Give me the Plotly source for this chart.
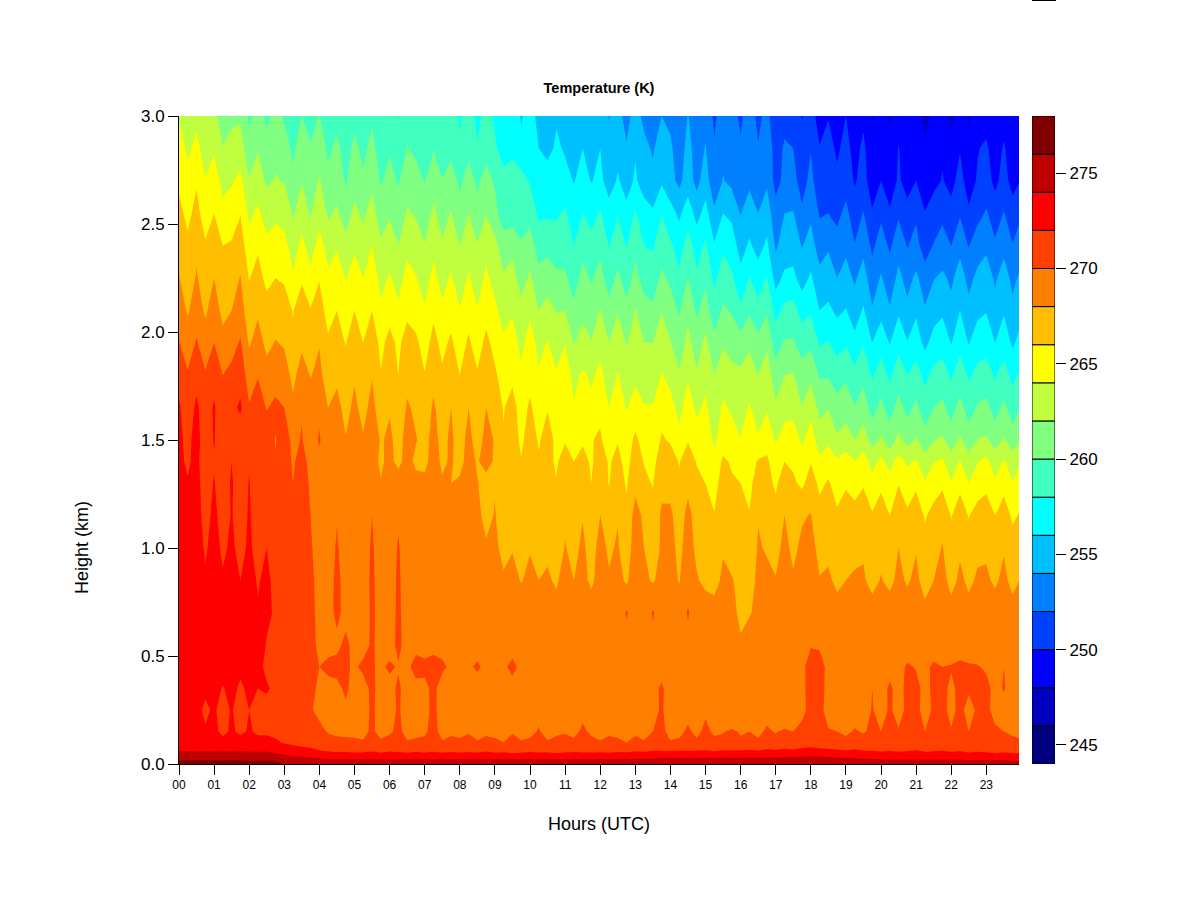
import plotly.graph_objects as go

hours = [i * 0.25 for i in range(96)] + [23.93]
heights = [0.0, 0.02, 0.05, 0.10, 0.15, 0.25, 0.35, 0.45, 0.55, 0.70, 0.85, 1.00, 1.15, 1.30, 1.40,
           1.50, 1.65, 1.80, 1.95, 2.10, 2.25, 2.40, 2.55, 2.70, 2.85, 3.00]

temperature = [
 [277.0,277.1,276.9,277.0,277.1,276.9,277.0,276.8,277.0,276.9,276.8,276.7,276.0,275.6,275.2,275.0,
  274.9,274.8,274.9,275.0,274.8,274.9,274.8,275.0,274.9,274.8,274.9,274.8,274.9,274.8,275.0,274.9,
  274.8,274.9,274.8,274.8,274.9,274.8,275.0,274.8,274.9,274.8,274.9,274.8,274.8,274.9,274.8,274.9,
  274.9,274.8,274.9,274.9,274.8,274.9,275.0,274.9,275.0,274.9,275.1,275.0,275.1,275.2,275.1,275.3,
  275.2,275.3,275.4,275.3,275.5,275.4,275.6,275.5,275.7,275.6,275.5,275.3,275.2,275.1,275.0,275.0,
  274.9,274.8,274.9,274.8,274.8,274.7,274.8,274.7,274.7,274.6,274.7,274.6,274.6,274.5,274.6,274.5,
  274.5],
 [275.8,275.9,275.8,275.9,275.8,275.7,275.9,275.8,275.8,275.7,275.8,275.6,275.2,274.9,274.7,274.6,
  274.3,274.2,274.1,274.2,274.1,274.2,274.1,274.2,274.1,274.2,274.1,274.1,274.2,274.1,274.2,274.1,
  274.1,274.2,274.1,274.1,274.2,274.1,274.2,274.1,274.2,274.1,274.1,274.2,274.1,274.2,274.2,274.1,
  274.2,274.1,274.3,274.2,274.3,274.4,274.3,274.5,274.4,274.6,274.5,274.4,274.6,274.5,274.7,274.6,
  274.6,274.7,274.8,274.7,274.8,274.9,274.8,275.0,275.1,274.9,274.7,274.6,274.5,274.4,274.3,274.2,
  274.2,274.1,274.2,274.1,274.1,274.0,274.1,274.0,274.1,274.0,273.9,274.0,273.9,273.9,273.9,273.8,
  273.9],
 [274.3,274.3,274.2,274.4,274.2,274.3,274.2,274.3,274.3,274.2,274.3,274.0,273.6,273.4,273.2,272.9,
  272.5,272.3,272.2,272.3,272.1,272.2,272.3,272.1,272.3,272.2,272.1,272.3,272.1,272.2,272.1,272.2,
  272.1,272.2,272.1,272.3,272.1,272.2,272.0,272.1,272.2,272.1,272.2,272.0,272.1,272.2,272.1,272.1,
  272.2,272.1,272.3,272.2,272.4,272.3,272.5,272.4,272.5,272.6,272.4,272.6,272.5,272.4,272.6,272.5,
  272.6,272.7,272.6,272.8,272.7,272.9,272.8,273.0,273.2,273.0,272.9,272.8,272.6,272.7,272.5,272.4,
  272.3,272.4,272.2,272.3,272.4,272.2,272.3,272.4,272.2,272.3,272.1,272.2,272.1,272.0,272.1,272.0,
  272.0],
 [272.9,272.8,272.9,272.7,272.8,272.6,272.7,272.8,272.5,272.6,272.4,272.3,271.8,271.5,271.2,271.1,
  270.7,270.5,270.4,270.2,270.3,270.1,270.4,270.2,270.5,270.3,270.1,270.2,270.3,270.6,270.1,270.3,
  270.2,270.4,270.1,270.3,270.2,270.0,270.4,270.1,270.2,270.5,270.1,270.3,270.4,270.2,270.6,270.3,
  270.1,270.3,270.2,270.0,270.3,270.1,270.4,270.6,270.1,270.2,270.5,270.2,270.7,270.3,270.4,270.6,
  270.3,270.5,270.2,270.6,270.4,270.7,270.5,270.8,271.0,270.8,270.6,270.5,270.3,270.6,270.4,270.7,
  270.4,270.7,270.6,270.8,270.9,270.5,270.7,270.8,270.6,270.9,270.5,270.7,270.8,270.6,270.5,270.3,
  270.2],
 [272.6,272.4,272.7,272.2,272.5,271.5,272.3,271.6,272.2,271.7,271.8,271.5,271.2,271.0,270.9,270.7,
  270.3,269.9,269.7,269.8,269.6,269.7,270.2,269.6,269.8,270.3,269.6,269.7,269.8,270.4,269.6,269.8,
  269.7,269.9,269.6,269.8,269.7,269.5,269.9,269.6,269.7,270.1,269.6,269.8,269.9,269.7,270.2,269.8,
  269.6,269.8,269.7,269.5,269.8,269.6,270.0,270.3,269.6,269.7,270.2,269.7,270.3,269.8,269.9,270.3,
  269.8,270.0,269.7,270.2,269.9,270.3,270.0,270.4,270.6,270.4,270.1,270.0,269.8,270.1,269.9,270.2,
  270.0,270.3,270.1,270.4,270.5,270.0,270.3,270.4,270.1,270.5,270.0,270.3,270.4,270.2,270.0,269.8,
  269.7],
 [272.8,272.5,272.6,271.6,272.3,271.2,272.2,270.9,272.0,271.3,271.4,271.2,270.8,270.5,270.9,270.1,
  269.7,269.4,269.6,269.8,269.5,269.3,270.3,269.3,269.4,270.2,269.3,269.4,269.5,270.4,269.3,269.5,
  269.3,269.5,269.2,269.4,269.3,269.1,269.5,269.2,269.3,269.7,269.2,269.4,269.5,269.3,269.7,269.4,
  269.2,269.4,269.3,269.1,269.4,269.2,269.5,270.2,269.2,269.3,269.6,269.3,269.8,269.4,269.5,268.0,
  269.4,269.5,268.1,269.5,269.4,268.0,269.5,269.6,270.5,270.4,269.5,269.4,269.2,269.5,269.3,270.1,
  269.4,270.2,269.5,270.3,270.4,269.5,270.2,270.4,269.6,270.4,269.5,270.2,270.3,269.6,269.5,269.4,
  269.3],
 [273.0,272.8,272.6,272.4,272.5,271.9,272.5,271.7,272.4,272.0,272.2,271.6,271.2,271.0,270.8,270.3,
  269.8,269.6,269.7,270.2,269.6,269.5,270.3,269.5,269.6,270.2,269.5,269.6,269.7,270.3,269.5,269.6,
  269.5,269.6,269.4,269.5,269.5,269.3,269.6,269.4,269.5,269.7,269.4,269.5,269.6,269.5,269.7,269.5,
  269.4,269.5,269.4,269.3,269.5,269.4,269.6,270.2,269.4,269.4,269.6,269.4,269.7,269.5,269.5,269.6,
  269.5,269.6,269.4,269.6,269.5,269.7,269.5,269.6,270.6,270.5,269.6,269.5,269.3,269.6,269.4,270.0,
  269.5,270.2,269.6,270.3,270.4,269.6,270.3,270.4,269.7,270.4,270.2,270.3,270.4,269.6,270.1,269.5,
  269.3],
 [273.3,273.1,273.0,272.9,272.9,272.5,272.7,272.4,272.2,272.5,271.6,271.4,270.9,270.7,270.5,270.2,
  270.0,270.3,270.4,270.2,269.8,270.3,270.1,269.8,270.2,269.9,269.7,270.5,270.3,270.5,270.2,269.8,
  269.6,269.8,270.2,269.7,269.6,269.8,270.3,269.7,269.6,269.5,269.7,269.6,269.5,269.7,269.6,269.5,
  269.4,269.5,269.4,269.3,269.5,269.4,269.6,269.5,269.4,269.4,269.5,269.4,269.6,269.4,269.5,269.5,
  269.4,269.5,269.4,269.6,269.4,269.6,269.5,269.6,270.7,270.6,269.6,269.4,269.3,269.5,269.4,269.6,
  269.4,269.6,269.5,270.2,269.9,269.6,270.3,270.0,270.1,270.3,270.2,270.1,269.8,269.5,270.0,269.5,
  269.3],
 [273.5,273.4,273.2,273.1,273.0,272.7,272.9,272.6,272.6,272.8,271.9,271.8,271.3,271.0,270.9,270.3,
  269.8,269.6,269.7,270.3,269.6,269.5,270.2,269.5,269.5,270.3,269.5,269.6,269.5,269.6,269.6,269.5,
  269.5,269.6,269.4,269.5,269.4,269.3,269.5,269.4,269.4,269.5,269.4,269.3,269.4,269.3,269.4,269.5,
  269.3,269.4,269.3,269.2,269.4,269.3,269.4,269.5,269.3,269.3,269.4,269.3,269.5,269.3,269.4,269.3,
  268.3,269.3,269.2,269.4,269.3,269.4,269.3,269.4,269.9,269.8,269.4,269.2,269.0,269.3,269.1,269.2,
  269.0,269.2,269.1,269.2,269.3,269.0,269.1,269.2,269.0,269.3,269.0,269.1,269.2,269.1,269.0,269.0,
  269.0],
 [273.6,273.5,273.4,272.7,273.0,272.5,272.8,272.4,272.6,272.1,272.3,271.8,271.4,271.1,270.9,270.3,
  269.7,269.5,270.3,269.6,269.5,269.4,270.2,269.6,269.3,270.3,269.3,269.4,269.3,269.4,269.4,269.3,
  269.3,269.4,269.2,269.3,269.1,268.9,269.2,269.1,269.0,269.1,268.9,268.8,268.9,268.7,268.9,269.1,
  268.8,268.9,268.8,270.2,269.0,268.8,270.2,269.0,268.9,268.8,270.2,268.9,269.1,268.8,269.0,268.7,
  267.5,267.8,268.6,268.7,269.0,268.9,269.0,268.9,269.4,269.3,268.9,268.7,268.5,268.8,268.6,268.7,
  268.7,268.8,268.6,268.9,268.8,268.5,268.7,268.8,268.6,268.8,268.5,268.7,268.8,268.6,268.7,268.5,
  268.7],
 [273.4,273.3,273.1,272.2,272.8,272.2,272.5,272.0,272.4,271.9,272.3,271.6,271.4,271.0,271.1,270.2,
  269.7,269.3,270.4,269.4,269.4,269.3,270.3,269.2,269.2,270.3,269.1,269.3,269.2,269.3,269.2,269.0,
  269.2,269.3,269.0,269.1,268.7,268.2,268.6,267.9,268.4,268.0,268.3,267.7,268.9,268.0,268.6,267.6,
  268.9,268.2,268.6,267.7,269.2,268.4,267.8,268.6,268.7,267.9,269.1,268.2,267.5,267.3,268.4,268.1,
  267.6,267.3,268.4,268.5,268.1,268.9,268.2,268.8,268.9,268.1,268.3,267.6,268.0,268.4,268.2,267.5,
  268.1,267.6,268.4,267.8,268.4,267.3,268.0,268.5,267.5,268.3,267.7,268.2,268.2,267.8,268.3,267.6,
  268.0],
 [273.2,272.9,272.9,271.8,272.6,271.7,272.3,271.5,272.3,271.4,272.0,271.0,271.2,270.6,270.9,270.1,
  269.6,269.1,270.2,269.0,269.3,269.0,270.3,268.8,269.0,270.2,268.9,269.1,269.0,269.2,268.8,268.6,
  268.9,269.0,268.6,268.2,268.3,267.6,267.9,267.0,267.9,267.2,267.6,266.8,268.1,267.4,268.4,267.2,
  268.7,267.7,268.2,266.9,269.0,268.0,267.3,268.2,268.6,267.5,268.8,267.6,267.3,266.8,267.8,267.4,
  267.0,266.6,268.2,267.8,267.4,268.5,267.6,268.4,268.7,267.4,267.6,266.9,267.7,267.2,267.8,266.9,
  267.6,266.8,268.0,267.2,267.9,266.7,267.4,268.1,266.8,267.8,266.9,267.7,267.8,267.0,267.9,266.8,
  267.2],
 [273.0,272.6,272.7,271.4,272.4,271.3,272.1,271.2,272.2,271.1,271.6,270.6,271.0,270.4,270.8,270.0,
  269.5,268.8,269.9,268.7,269.1,268.7,270.0,268.5,268.9,269.7,268.7,269.0,268.8,269.0,268.5,268.3,
  268.7,268.7,268.4,267.5,268.1,267.0,267.6,266.6,267.5,266.8,267.2,266.3,267.8,266.8,267.9,266.6,
  268.0,267.0,267.9,266.4,268.8,267.6,266.6,268.3,268.4,267.0,268.6,267.2,266.6,266.1,267.4,266.9,
  266.6,266.1,267.9,267.1,266.6,268.0,266.7,267.8,268.1,266.7,267.0,266.3,267.2,266.6,267.2,266.2,
  267.0,266.0,267.3,266.4,267.2,265.8,266.7,267.4,265.9,267.0,265.9,266.8,267.0,266.0,266.9,265.7,
  266.1],
 [272.6,272.1,272.6,271.2,272.1,271.1,272.2,271.0,272.1,270.7,271.3,270.3,270.9,270.0,270.7,269.8,
  269.6,268.6,269.0,268.4,268.9,268.4,269.2,268.1,268.6,268.9,268.3,268.6,268.5,268.7,268.2,268.0,
  268.3,268.4,268.1,267.2,267.9,266.6,267.3,266.3,267.4,266.7,267.1,266.1,267.4,266.2,267.2,266.0,
  267.1,265.9,267.0,265.8,267.4,266.4,265.9,267.5,267.3,266.2,267.5,266.4,266.0,265.3,266.8,266.2,
  266.0,265.5,266.9,266.6,265.7,267.0,266.3,265.6,266.9,265.6,266.2,265.2,265.7,265.3,265.8,264.6,
  265.6,264.7,265.9,264.8,265.6,264.2,265.0,265.6,264.1,265.5,264.0,265.0,265.5,264.3,265.4,264.1,
  264.8],
 [272.3,271.8,272.4,271.1,271.9,271.0,272.0,270.9,271.9,270.5,271.2,270.1,270.8,269.8,270.6,269.5,
  269.6,268.3,268.7,268.2,268.8,268.1,268.7,267.7,268.5,267.5,268.7,267.6,267.5,268.8,267.7,268.2,
  267.4,268.7,267.8,268.8,267.7,266.8,267.3,266.1,266.9,266.2,266.6,265.7,267.1,266.0,266.8,265.7,
  267.1,265.8,266.5,265.4,266.9,265.9,265.6,266.7,266.9,265.9,266.9,265.9,265.7,264.8,266.3,265.8,
  265.6,265.1,266.2,266.3,265.1,266.0,265.7,265.0,265.9,264.4,265.2,264.3,264.9,264.0,264.9,263.3,
  264.5,263.3,264.7,263.7,264.2,262.8,263.9,264.3,262.9,264.1,262.8,263.9,264.5,263.1,264.2,263.0,
  263.7],
 [272.4,271.5,272.7,271.0,272.1,270.9,271.6,270.9,270.9,270.9,270.9,269.9,270.8,269.6,270.1,269.1,
  270.2,268.7,269.5,268.1,269.2,268.2,269.4,267.8,268.4,267.3,268.7,268.1,267.4,268.6,267.5,268.3,
  267.3,268.5,267.3,268.5,267.9,266.1,267.0,265.6,267.0,265.8,266.8,265.6,265.8,265.5,265.7,265.9,
  266.3,264.9,265.9,264.7,266.5,265.1,264.9,266.2,265.8,264.5,265.9,264.8,265.6,263.6,265.2,264.9,
  264.1,265.3,264.3,265.3,263.8,264.7,264.9,263.7,264.9,263.1,263.5,262.3,263.0,262.0,263.0,261.3,
  262.3,261.0,262.5,261.2,262.2,260.8,261.9,262.3,261.0,262.3,260.9,262.0,262.3,261.1,262.2,260.9,
  261.8],
 [272.2,271.1,272.3,271.1,272.2,270.8,271.5,272.3,270.2,270.9,269.9,270.4,270.0,268.4,269.9,269.1,
  269.6,268.0,268.6,267.4,268.4,267.4,268.6,266.9,267.8,266.7,268.2,267.7,266.9,268.3,267.0,268.0,
  266.7,268.0,266.9,268.0,267.1,265.9,266.7,265.2,266.3,265.0,265.9,265.1,265.4,264.2,265.2,264.4,
  265.5,264.0,265.1,263.9,264.6,264.1,264.1,265.4,264.7,263.4,264.9,263.6,264.4,262.8,264.3,263.7,
  263.1,264.2,262.9,263.8,262.3,263.4,263.4,262.1,263.4,261.4,261.9,260.8,261.1,260.1,261.0,259.3,
  260.5,259.2,260.7,259.4,260.4,258.9,260.0,260.4,259.3,260.6,259.2,260.2,260.5,259.3,260.4,259.1,
  259.8],
 [271.4,270.2,271.5,270.2,271.3,270.0,270.5,271.3,269.0,269.9,268.7,269.2,268.9,267.5,268.9,267.9,
  268.5,267.0,267.6,266.6,267.8,266.7,267.9,266.1,267.2,266.0,267.5,267.0,266.1,267.4,266.3,267.2,
  266.0,267.3,266.2,267.3,266.3,265.2,265.6,264.4,265.4,264.2,265.0,264.2,265.1,263.4,264.3,263.7,
  264.5,263.1,264.1,263.1,263.7,263.2,263.1,264.1,263.4,262.2,263.8,262.2,263.4,262.0,263.2,262.6,
  262.4,263.1,262.0,263.0,261.0,262.0,262.1,260.9,261.5,259.8,259.8,259.0,259.7,258.6,259.5,257.8,
  259.0,257.6,259.1,258.0,258.9,257.5,258.6,259.0,257.7,259.1,257.7,258.7,258.9,257.8,258.8,257.5,
  258.2],
 [270.1,268.9,270.2,268.9,270.0,268.6,269.3,270.2,267.8,268.8,267.5,268.1,267.8,266.3,267.6,266.6,
  267.9,266.3,267.0,265.9,267.2,266.0,267.2,265.5,266.6,265.6,266.9,266.4,265.2,266.6,265.5,266.3,
  265.1,266.3,265.1,266.5,265.4,264.4,264.7,263.5,264.8,263.5,264.1,263.1,263.9,261.9,262.7,262.1,
  263.4,262.0,263.0,261.9,262.5,262.0,262.0,263.0,262.1,260.9,262.6,261.1,262.5,260.6,261.8,261.1,
  260.9,261.6,260.6,261.6,259.0,260.2,260.2,259.1,259.6,257.8,258.1,257.3,257.8,256.6,257.9,256.0,
  257.2,255.9,257.4,256.1,257.0,255.5,256.7,257.1,255.9,257.3,255.9,256.9,257.2,256.0,257.1,255.7,
  256.5],
 [269.0,267.8,269.0,267.7,268.9,267.5,268.0,268.9,266.8,267.7,266.7,267.2,267.1,265.9,267.2,266.1,
  266.8,265.3,266.0,265.0,266.0,264.8,266.0,264.3,265.3,264.3,265.5,265.1,264.2,265.6,264.4,265.3,
  264.1,265.3,264.1,265.3,264.4,263.2,263.8,262.5,263.7,262.0,262.6,261.9,262.0,260.4,261.6,261.0,
  262.1,260.6,261.9,260.6,262.1,260.8,260.4,261.9,261.0,259.8,261.4,259.7,260.9,258.9,260.3,259.8,
  258.4,259.7,258.7,259.7,257.4,258.5,258.7,257.3,257.8,256.0,256.4,255.6,256.1,255.0,256.2,254.2,
  255.4,254.2,255.7,254.5,255.7,254.2,255.2,255.7,254.6,256.0,254.6,255.6,255.9,254.7,255.8,254.5,
  255.2],
 [268.1,266.8,268.2,266.9,268.0,266.6,267.1,268.1,265.9,266.7,265.5,266.0,265.7,264.3,265.7,264.5,
  265.9,264.4,265.0,263.9,264.9,264.0,265.2,263.4,264.2,263.3,264.6,264.1,263.1,264.6,263.3,264.2,
  263.0,264.2,263.0,264.4,263.3,262.2,262.6,261.3,262.3,260.6,261.2,260.4,260.3,259.2,260.6,259.8,
  260.7,259.1,260.4,259.1,260.6,259.2,258.9,260.4,259.6,258.4,260.1,258.3,259.6,257.6,258.9,258.3,
  256.7,258.1,257.0,258.1,255.2,256.4,256.5,255.1,256.3,254.6,254.9,254.0,254.8,253.7,254.9,252.8,
  254.2,252.9,254.5,253.3,254.4,252.9,253.9,254.4,253.6,254.9,253.4,254.5,255.0,253.7,254.9,253.5,
  254.2],
 [267.5,266.4,267.6,266.2,267.4,266.0,266.2,267.1,264.7,265.7,264.5,265.0,264.6,263.1,264.5,263.2,
  264.7,263.2,263.8,262.6,263.7,262.8,264.0,262.3,263.0,262.0,263.5,263.0,262.1,263.5,262.3,263.2,
  262.0,263.3,262.1,263.4,262.5,261.1,261.6,260.2,260.8,259.2,259.4,259.0,259.2,258.0,259.4,258.7,
  259.5,257.9,259.2,257.9,259.5,258.0,257.8,259.2,258.3,257.2,258.9,257.2,258.3,256.2,257.7,257.1,
  255.1,256.3,255.2,256.4,253.7,254.9,255.1,253.9,254.8,253.1,253.8,252.7,253.5,252.1,253.4,251.6,
  252.9,251.7,253.2,251.9,252.6,251.1,252.1,252.7,252.0,253.4,251.9,253.0,253.6,252.3,253.4,252.1,
  252.9],
 [266.5,265.5,266.6,265.1,266.0,264.7,265.0,265.9,263.6,264.4,263.1,263.5,263.3,261.8,263.0,261.8,
  263.3,261.7,262.3,261.0,262.5,261.6,262.8,261.0,261.8,260.8,262.2,261.8,260.8,262.4,261.1,262.1,
  260.6,262.0,260.7,261.9,260.7,258.8,258.8,259.0,259.4,257.6,257.7,257.7,258.3,257.0,258.0,257.3,
  258.2,256.8,257.9,256.6,258.2,256.9,256.3,257.9,256.7,255.6,257.1,255.3,256.7,254.4,256.0,255.5,
  253.9,255.0,254.0,255.0,252.8,254.0,254.1,252.4,253.6,251.8,252.0,251.5,252.5,251.0,252.1,250.2,
  251.6,250.3,251.7,250.7,251.7,250.1,251.1,251.6,250.6,251.8,250.3,251.4,252.2,251.0,252.1,250.8,
  251.5],
 [265.6,264.7,265.8,264.1,265.0,263.3,263.8,264.5,262.1,262.9,261.7,262.1,261.9,260.4,261.9,260.9,
  262.2,260.5,261.1,259.8,261.2,260.3,261.5,259.8,260.8,259.8,261.1,260.8,259.9,261.2,260.1,260.9,
  259.6,261.0,259.6,260.9,259.7,258.9,258.2,258.8,257.8,256.3,257.0,256.1,256.6,255.9,256.7,255.9,
  256.5,255.1,256.2,255.1,256.3,255.0,254.4,255.7,254.7,253.5,255.0,253.4,255.0,252.5,254.1,253.5,
  252.5,253.6,252.6,253.7,251.3,252.5,252.7,251.1,252.6,250.7,251.1,250.4,251.2,249.8,250.7,249.0,
  250.0,248.8,250.3,249.2,250.0,248.6,249.4,250.1,249.4,250.7,249.1,250.2,250.8,249.5,250.7,249.3,
  249.9],
 [264.9,263.6,264.6,263.2,263.8,262.1,262.7,262.9,260.8,261.9,260.7,261.7,260.9,259.6,261.2,260.2,
  261.2,259.6,260.5,259.2,260.5,259.5,260.7,258.9,259.8,258.7,260.1,259.6,258.5,259.9,258.8,259.5,
  258.2,259.3,258.1,259.1,258.4,256.9,257.9,256.5,257.5,256.0,255.4,256.3,255.8,254.6,256.0,255.2,
  256.0,254.6,255.5,254.2,255.8,254.5,253.8,254.9,254.3,253.0,254.6,253.2,254.1,252.2,253.6,253.1,
  252.2,253.3,252.1,253.1,251.3,252.2,252.0,250.7,251.9,250.1,250.7,249.7,250.6,249.4,250.4,248.6,
  249.7,248.6,250.1,249.0,249.9,248.4,249.4,249.8,248.5,249.9,248.7,249.9,250.3,249.1,250.2,248.9,
  249.6],
 [263.8,262.5,263.4,262.0,262.6,260.9,261.5,261.7,259.6,260.7,259.6,260.5,259.8,258.5,260.0,259.1,
  260.1,258.5,259.4,258.1,259.4,258.5,259.6,258.0,258.9,257.9,259.4,259.0,258.0,259.4,258.2,259.1,
  257.8,258.8,257.6,258.5,257.7,256.2,257.2,255.8,256.8,255.4,254.8,255.8,255.3,254.0,255.4,254.5,
  255.3,253.9,254.7,253.3,254.8,253.5,252.9,254.0,253.6,252.4,254.1,252.6,253.6,251.6,253.1,252.6,
  251.7,252.8,251.6,252.5,250.7,251.5,251.3,249.9,250.9,249.1,249.9,249.0,250.0,248.8,249.6,247.8,
  248.9,247.7,249.1,247.9,248.8,247.4,248.4,248.8,247.5,249.0,247.7,248.9,249.3,248.1,249.3,248.0,
  248.7],
]

level_starts = [244, 246, 248, 250, 252, 254, 256, 258, 260, 262, 264, 266, 268, 270, 272, 274, 276]
level_colors = ["#00007F", "#0000BF", "#0000FF", "#0040FF", "#0080FF", "#00BFFF", "#00FFFF", "#40FFBF",
                "#80FF80", "#BFFF40", "#FFFF00", "#FFBF00", "#FF8000", "#FF4000", "#FF0000", "#BF0000", "#7F0000"]
level_widths = [2] * 17
hour_ticks = list(range(24))
hour_labels = [f"{h:02d}" for h in hour_ticks]
height_ticks = [0.0, 0.5, 1.0, 1.5, 2.0, 2.5, 3.0]
bar_ticks = [245, 250, 255, 260, 265, 270, 275]

for row in temperature:
    assert len(row) == len(hours), len(row)
assert len(temperature) == len(heights), len(temperature)

n = len(level_colors)
scale = [[i / (n - 1), c] for i, c in enumerate(level_colors)]

fig = go.Figure()
fig.add_trace(go.Contour(
    x=hours, y=heights, z=temperature,
    autocontour=False, colorscale=scale, showscale=False,
    contours=dict(start=246, end=276, size=2, coloring="fill", showlines=False),
    line=dict(width=0, smoothing=0), hoverinfo="skip", xaxis="x", yaxis="y",
))
fig.add_trace(go.Bar(
    x=[0] * n, y=level_widths, base=level_starts, width=1,
    marker=dict(color=level_colors, line=dict(color="black", width=1)),
    xaxis="x2", yaxis="y2", showlegend=False, hoverinfo="skip",
))

W, H = 1200.0, 900.0
font = "Liberation Sans, Arial, sans-serif"
fig.update_layout(
    width=1200, height=900, margin=dict(l=0, r=0, t=0, b=0, pad=0, autoexpand=False),
    paper_bgcolor="white", plot_bgcolor="white", showlegend=False,
    font=dict(family=font, color="black"),
    xaxis=dict(domain=[179 / W, 1019 / W], range=[0, 23.93], tickmode="array", tickvals=hour_ticks,
               ticktext=hour_labels, ticks="outside", ticklen=10, tickwidth=1, tickcolor="black",
               tickfont=dict(size=12), showgrid=False, zeroline=False, showline=True, linecolor="black",
               linewidth=1, anchor="y", tickangle=0,
               title=dict(text="Hours (UTC)", font=dict(size=18), standoff=25)),
    yaxis=dict(domain=[1 - 764 / H, 1 - 116 / H], range=[0, 3], tickmode="array", tickvals=height_ticks,
               ticktext=[f"{v:.1f}" for v in height_ticks], ticks="outside", ticklen=10, tickwidth=1,
               tickcolor="black", tickfont=dict(size=17), showgrid=False, zeroline=False, showline=True,
               linecolor="black", linewidth=1, anchor="x", tickangle=0),
    xaxis2=dict(domain=[1032 / W, 1055 / W], range=[-0.5, 0.5], showticklabels=False, ticks="",
                showgrid=False, zeroline=False, showline=False, anchor="y2"),
    yaxis2=dict(domain=[1 - 764 / H, 1 - 116 / H], range=[244, 278], side="right", anchor="x2",
                tickmode="array", tickvals=bar_ticks, ticks="outside", ticklen=10, tickwidth=1,
                tickcolor="black", tickfont=dict(size=17), showgrid=False, zeroline=False, showline=False),
    title=dict(text="<b>Temperature (K)</b>", x=599 / W, xanchor="center", y=1 - 88 / H, yanchor="middle",
               font=dict(size=14.5)),
    annotations=[dict(text="Height (km)", xref="paper", yref="paper", x=82 / W, y=1 - 548 / H,
                      textangle=-90, showarrow=False, font=dict(size=18), xanchor="center", yanchor="middle")],
    shapes=[dict(type="line", xref="paper", yref="paper", x0=0.86, x1=0.88, y0=1, y1=1,
                 line=dict(color="black", width=2))],
)
fig.write_html("out.html", config=dict(displayModeBar=False), post_script="document.body.style.margin='0';")
